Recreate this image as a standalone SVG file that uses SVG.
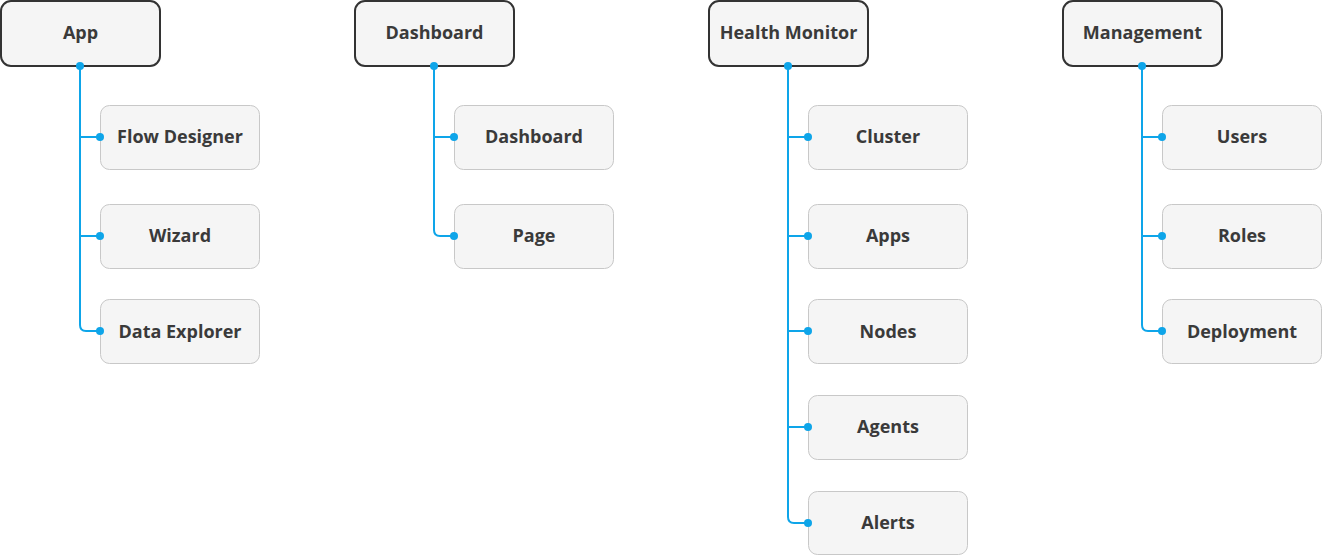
<svg xmlns="http://www.w3.org/2000/svg" width="1322" height="556" viewBox="0 0 1322 556">
<style>
.root rect{fill:#f5f5f5;stroke:#333;stroke-width:2}
.child rect{fill:#f5f5f5;stroke:#c8c8c8;stroke-width:1}
text{font-family:"Open Sans","Noto Sans",sans-serif;font-weight:bold;font-size:18px;fill:#3a3a3a;text-anchor:middle;dominant-baseline:central}
.conn path{fill:none;stroke:#0ea5e9;stroke-width:2}
.conn circle{fill:#0ea5e9}
</style>
<rect width="1322" height="556" fill="#fff"/>
<g id="app" class="root"><rect x="1" y="1" width="159" height="65" rx="10"/><text x="80.5" y="32">App</text></g>
<g id="flow-designer" class="child"><rect x="100.5" y="105.5" width="159" height="64" rx="9"/><text x="180" y="136">Flow Designer</text></g>
<g id="wizard" class="child"><rect x="100.5" y="204.5" width="159" height="64" rx="9"/><text x="180" y="235">Wizard</text></g>
<g id="data-explorer" class="child"><rect x="100.5" y="299.5" width="159" height="64" rx="9"/><text x="180" y="331">Data Explorer</text></g>
<g id="dashboard-root" class="root"><rect x="355" y="1" width="159" height="65" rx="10"/><text x="434.5" y="32">Dashboard</text></g>
<g id="dashboard" class="child"><rect x="454.5" y="105.5" width="159" height="64" rx="9"/><text x="534" y="136">Dashboard</text></g>
<g id="page" class="child"><rect x="454.5" y="204.5" width="159" height="64" rx="9"/><text x="534" y="235">Page</text></g>
<g id="health-monitor" class="root"><rect x="709" y="1" width="159" height="65" rx="10"/><text x="788.5" y="32">Health Monitor</text></g>
<g id="cluster" class="child"><rect x="808.5" y="105.5" width="159" height="64" rx="9"/><text x="888" y="136">Cluster</text></g>
<g id="apps" class="child"><rect x="808.5" y="204.5" width="159" height="64" rx="9"/><text x="888" y="235">Apps</text></g>
<g id="nodes" class="child"><rect x="808.5" y="299.5" width="159" height="64" rx="9"/><text x="888" y="331">Nodes</text></g>
<g id="agents" class="child"><rect x="808.5" y="395.5" width="159" height="64" rx="9"/><text x="888" y="426">Agents</text></g>
<g id="alerts" class="child"><rect x="808.5" y="491.5" width="159" height="63" rx="9"/><text x="888" y="522">Alerts</text></g>
<g id="management" class="root"><rect x="1063" y="1" width="159" height="65" rx="10"/><text x="1142.5" y="32">Management</text></g>
<g id="users" class="child"><rect x="1162.5" y="105.5" width="159" height="64" rx="9"/><text x="1242" y="136">Users</text></g>
<g id="roles" class="child"><rect x="1162.5" y="204.5" width="159" height="64" rx="9"/><text x="1242" y="235">Roles</text></g>
<g id="deployment" class="child"><rect x="1162.5" y="299.5" width="159" height="64" rx="9"/><text x="1242" y="331">Deployment</text></g>
<g class="conn">
<path d="M80 66V325Q80 331 86 331H100M80 137H100M80 236H100"/>
<circle cx="80" cy="66" r="4"/><circle cx="100" cy="137" r="4"/><circle cx="100" cy="236" r="4"/><circle cx="100" cy="331" r="4"/>
<path d="M434 66V230Q434 236 440 236H454M434 137H454"/>
<circle cx="434" cy="66" r="4"/><circle cx="454" cy="137" r="4"/><circle cx="454" cy="236" r="4"/>
<path d="M788 66V517Q788 523 794 523H808M788 137H808M788 236H808M788 331H808M788 427H808"/>
<circle cx="788" cy="66" r="4"/><circle cx="808" cy="137" r="4"/><circle cx="808" cy="236" r="4"/><circle cx="808" cy="331" r="4"/><circle cx="808" cy="427" r="4"/><circle cx="808" cy="523" r="4"/>
<path d="M1142 66V325Q1142 331 1148 331H1162M1142 137H1162M1142 236H1162"/>
<circle cx="1142" cy="66" r="4"/><circle cx="1162" cy="137" r="4"/><circle cx="1162" cy="236" r="4"/><circle cx="1162" cy="331" r="4"/>
</g>
</svg>
